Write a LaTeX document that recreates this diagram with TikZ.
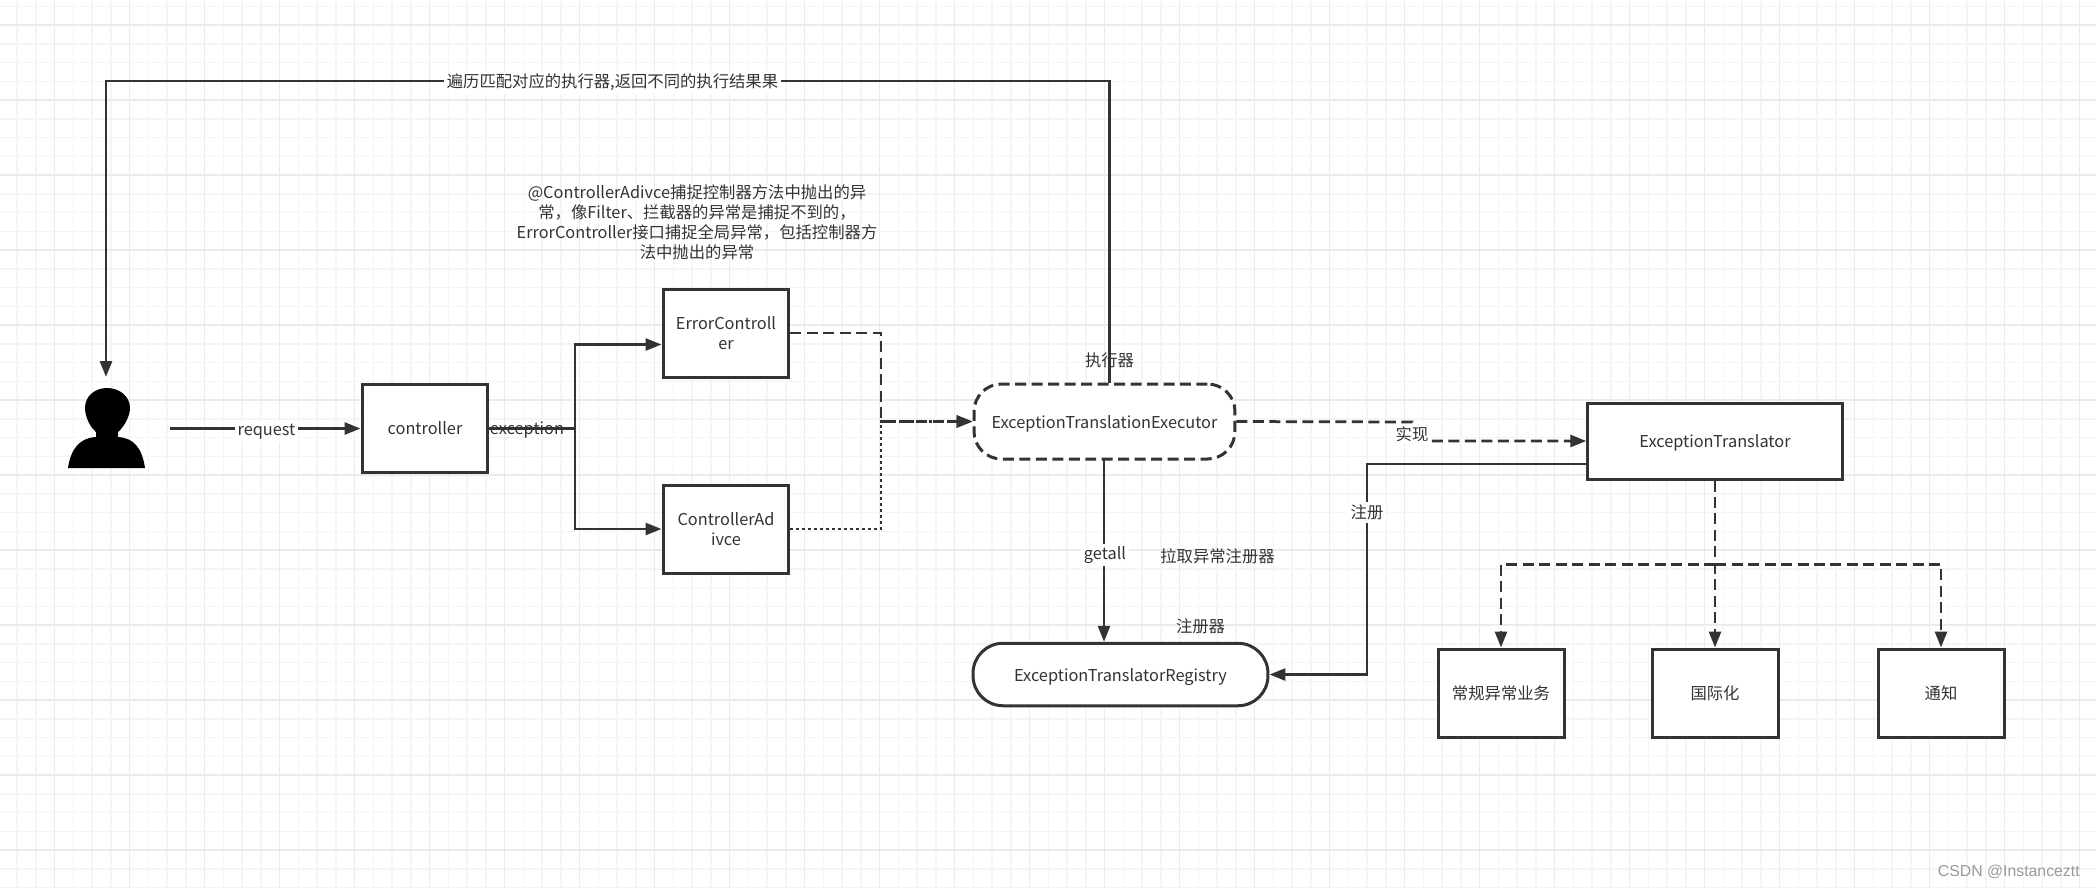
\documentclass[tikz,border=0pt]{standalone}
\usepackage{xcolor}
\usepackage{fontspec}
\setmainfont{Noto Sans CJK SC}
\newfontfamily\markfont{Liberation Sans}
\usetikzlibrary{arrows.meta, positioning, calc}
\definecolor{inkgray}{HTML}{333333}
\definecolor{textgray}{HTML}{333333}
\definecolor{gridmajor}{HTML}{EBEBEB}
\definecolor{gridminor}{HTML}{F5F5F5}
\definecolor{markgray}{HTML}{999999}
\tikzset{
  arr/.style={-{Triangle[length=0.32cm,width=0.24cm]}, line width=0.055cm, inkgray},
  darr/.style={arr, dash pattern=on 0.22cm off 0.11cm},
  dotarr/.style={arr, dash pattern=on 0.06cm off 0.06cm},
  procbox/.style={rectangle, draw=inkgray, fill=white, line width=0.06cm, align=center, text=textgray, minimum width=2.52cm, minimum height=1.76cm, inner sep=0pt},
  pillbox/.style={rectangle, rounded corners=0.55cm, draw=inkgray, fill=white, line width=0.06cm, align=center, text=textgray, inner sep=0pt, text depth=0pt},
  note/.style={text=textgray, align=center, inner sep=1pt},
  edgelabel/.style={note, fill=white, inner sep=1.5pt},
}

\begin{document}
\begin{tikzpicture}[x=0.02cm, y=-0.02cm, font=\fontsize{9.3pt}{11.4pt}\selectfont]
  \useasboundingbox (0,0) rectangle (2096,887);

  % Background grid
  \foreach \k in {0,...,111} {
    \draw[gridminor, line width=0.03cm] ({-1.55+18.75*\k},0) -- ({-1.55+18.75*\k},887);
  }
  \foreach \k in {0,...,47} {
    \draw[gridminor, line width=0.03cm] (0,{6.25+18.75*\k}) -- (2096,{6.25+18.75*\k});
  }
  \foreach \k in {0,...,27} {
    \draw[gridmajor, line width=0.03cm] ({54.7+75*\k},0) -- ({54.7+75*\k},887);
  }
  \foreach \k in {0,...,11} {
    \draw[gridmajor, line width=0.03cm] (0,{25+75*\k}) -- (2096,{25+75*\k});
  }

  % User figure
  \fill[black] (68,468) .. controls (71,448) and (80,438) .. (96,437) -- (96,432)
    .. controls (88,425) and (85,414) .. (85,408) .. controls (85,396) and (95,388) .. (107,388)
    .. controls (119,388) and (130,396) .. (130,408) .. controls (130,414) and (126,425) .. (118,432)
    -- (118,437) .. controls (134,438) and (142,448) .. (145,468) -- cycle;
  \coordinate (userin) at (106,377);
  \coordinate (userout) at (170,428.5);

  % Boxes
  \node[procbox, minimum width=2.52cm] (ctrl) at (425,428.5) {controller};
  \node[procbox] (errctrl) at (726,333) {ErrorControll\\er};
  \node[procbox] (advice) at (726,529) {ControllerAd\\ivce};
  \node[pillbox, dashed, dash pattern=on 0.22cm off 0.11cm, minimum width=5.22cm, minimum height=1.5cm] (exec) at (1104.5,421.5) {ExceptionTranslationExecutor};
  \node[pillbox, rounded corners=0.6cm, minimum width=5.9cm, minimum height=1.25cm] (registry) at (1120.5,674.5) {ExceptionTranslatorRegistry};
  \node[procbox, text depth=0pt, minimum width=5.09cm, minimum height=1.52cm] (translator) at (1715,441) {ExceptionTranslator};
  \node[procbox, text depth=0pt] (biz) at (1501,693) {常规异常业务};
  \node[procbox, text depth=0pt] (intl) at (1715,693) {国际化};
  \node[procbox, text depth=0pt] (notify) at (1941,693) {通知};

  % Request and exception branches
  \coordinate (split) at (575,428.5);
  \draw[arr] (userout) -- (ctrl.west);
  \draw[arr] (ctrl.east) -- (split) |- ($(errctrl.west)+(0,11.5)$);
  \draw[arr] (split) |- (advice.west);

  % Into the executor
  \coordinate (merge) at (881,421.5);
  \draw[darr] (errctrl.east) -| (merge) -- (exec.west);
  \draw[dotarr] (advice.east) -| (merge) -- (exec.west);

  % Back to the user
  \coordinate (execup) at ($(exec.north)+(5,0)$);
  \coordinate (topcorner) at (106,81);
  \draw[arr] (execup) |- (topcorner) -- (userin);

  % Executor to registry and translator
  \coordinate (execdown) at (1104,459);
  \draw[arr] (execdown) -- (execdown |- registry.north);
  \coordinate (jogtop) at (1412,422);
  \coordinate (jogend) at (1412,441);
  \draw[darr] (exec.east) -- (jogtop) -- (jogend) -- (translator.west);
  \coordinate (transout) at ($(translator.west)+(0,23)$);
  \coordinate (regbus) at (1367,464);
  \draw[arr] (transout) -- (regbus) |- (registry.east);

  % Translator fan-out
  \coordinate (fan) at (1715,564.5);
  \draw[darr] (translator.south) -- (intl.north);
  \draw[darr] (fan) -| (biz.north);
  \draw[darr] (fan) -| (notify.north);

  % Labels
  \node[edgelabel] (lreq) at (266.5,431.5) {request};
  \node[note] (lexc) at (527,430) {exception};
  \node[edgelabel] (lback) at (612.5,82.5) {遍历匹配对应的执行器,返回不同的执行结果果};
  \node[note] (lnote) at (697,222) {@ControllerAdivce捕捉控制器方法中抛出的异\\常，像Filter、拦截器的异常是捕捉不到的，\\ErrorController接口捕捉全局异常，包括控制器方\\法中抛出的异常};
  \node[note] (lexec) at (1109.5,360.5) {执行器};
  \node[edgelabel] (lgetall) at (1105,555) {getall};
  \node[note] (lpull) at (1217.5,556.5) {拉取异常注册器};
  \node[note] (lreg) at (1200.5,626) {注册器};
  \node[edgelabel] (limpl) at (1412,434) {实现};
  \node[edgelabel] (lsign) at (1367,512.5) {注册};
  \node[font=\markfont\fontsize{9pt}{11pt}\selectfont, text=markgray, anchor=east, inner sep=0pt] (lmark) at (2080,872) {CSDN @Instanceztt};
\end{tikzpicture}
\end{document}
